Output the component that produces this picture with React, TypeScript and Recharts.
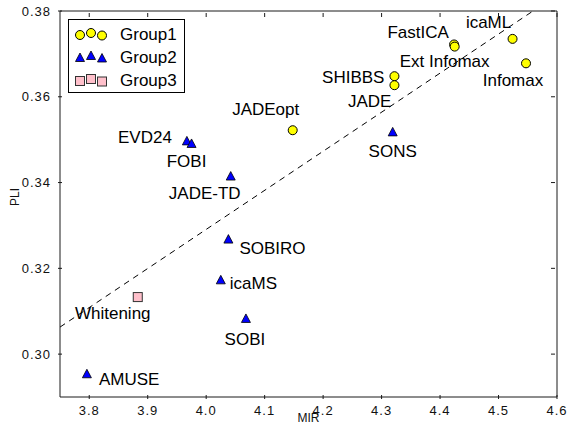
import React from 'react';
import { ScatterChart, Scatter, XAxis, YAxis, ReferenceLine, Label } from 'recharts';

// Group1 (yellow circles)
const group1Names = ['FastICA', 'Ext Infomax', 'icaML', 'Infomax', 'SHIBBS', 'JADE', 'JADEopt'];
const group1Mir = [4.424, 4.425, 4.524, 4.547, 4.322, 4.322, 4.148];
const group1Pli = [0.3722, 0.3717, 0.3735, 0.3678, 0.3648, 0.3627, 0.3522];

// Group2 (blue triangles)
const group2Names = ['SONS', 'EVD24', 'FOBI', 'JADE-TD', 'SOBIRO', 'icaMS', 'SOBI', 'AMUSE'];
const group2Mir = [4.319, 3.967, 3.975, 4.042, 4.038, 4.025, 4.068, 3.796];
const group2Pli = [0.3517, 0.3496, 0.3490, 0.3414, 0.3267, 0.3172, 0.3082, 0.2953];

// Group3 (pink squares)
const group3Names = ['Whitening'];
const group3Mir = [3.883];
const group3Pli = [0.3133];

// dashed trend line end points
const fitMir = [3.75, 4.559];
const fitPli = [0.3063, 0.38];

const xDomain = [3.75, 4.6];
const yDomain = [0.29, 0.38];
const xTicks = [3.8, 3.9, 4.0, 4.1, 4.2, 4.3, 4.4, 4.5, 4.6];
const yTicks = [0.3, 0.32, 0.34, 0.36, 0.38];

// where each label sits relative to its marker
const labelPlace: Record<string, [string, number, number]> = {
  FastICA: ['middle', -36, -12],
  'Ext Infomax': ['middle', -10, 15],
  icaML: ['middle', -24, -16],
  Infomax: ['middle', -13, 17],
  SHIBBS: ['end', -10, 1],
  JADE: ['end', -3, 16],
  JADEopt: ['middle', -27, -21],
  SONS: ['middle', 0, 19],
  EVD24: ['end', -15, -4],
  FOBI: ['middle', -5, 18],
  'JADE-TD': ['middle', -26, 17],
  SOBIRO: ['start', 11, 9],
  icaMS: ['start', 9, 3],
  SOBI: ['middle', -1, 21],
  AMUSE: ['start', 12, 5],
  Whitening: ['middle', -25, 16],
};

const FONT = '"Liberation Sans", Arial, sans-serif';
const AXIS = '#1a1a1a';

// chart layout
const W = 569;
const H = 437;
const MARGIN = { top: 11, right: 12, bottom: 0, left: 0 };
const Y_AXIS_W = 60;
const X_AXIS_H = 40;
const PLOT_W = W - MARGIN.left - MARGIN.right - Y_AXIS_W;
const PLOT_H = H - MARGIN.top - MARGIN.bottom - X_AXIS_H;

const toRows = (names: string[], mir: number[], pli: number[]) =>
  names.map((name, i) => ({ name, mir: mir[i], pli: pli[i] }));

const group1 = toRows(group1Names, group1Mir, group1Pli);
const group2 = toRows(group2Names, group2Mir, group2Pli);
const group3 = toRows(group3Names, group3Mir, group3Pli);

const Circle = ({ x, y }: { x: number; y: number }) => (
  <circle cx={x} cy={y} r={4.5} fill="#ffff00" stroke="#000" strokeWidth={1} />
);
const Tri = ({ x, y }: { x: number; y: number }) => (
  <path d={`M${x},${y - 5}L${x + 4.5},${y + 3.5}L${x - 4.5},${y + 3.5}Z`} fill="#0000ff" stroke="#000" strokeWidth={0.8} />
);
const Sq = ({ x, y }: { x: number; y: number }) => (
  <rect x={x - 4.5} y={y - 4.5} width={9} height={9} fill="#ffc0cb" stroke="#333" strokeWidth={1} />
);

const makeShape = (Marker: React.FC<{ x: number; y: number }>) => (props: any) => {
  const { cx, cy, payload } = props;
  const place = labelPlace[payload.name] || ['start', 8, 0];
  return (
    <g>
      <Marker x={cx} y={cy} />
      <text
        x={cx + place[1]}
        y={cy + place[2]}
        textAnchor={place[0] as any}
        dominantBaseline="central"
        fontSize={17}
        fontFamily={FONT}
        fill="#000"
      >
        {payload.name}
      </text>
    </g>
  );
};

const tickText = { fontSize: 13, fontFamily: FONT, fill: '#111', letterSpacing: 1 };

// bottom tick: inward mark, label, and the matching mark on the top border
const BottomTick = (props: any) => {
  const { x, y, payload } = props;
  const top = y - PLOT_H;
  return (
    <g>
      <line x1={x} y1={y} x2={x} y2={y - 4} stroke={AXIS} strokeWidth={1} />
      <line x1={x} y1={top} x2={x} y2={top + 4} stroke={AXIS} strokeWidth={1} />
      <text x={x} y={y + 11} textAnchor="middle" dominantBaseline="central" {...tickText}>
        {Number(payload.value).toFixed(1)}
      </text>
    </g>
  );
};

// left tick: inward mark, label, and the matching mark on the right border
const LeftTick = (props: any) => {
  const { x, y, payload } = props;
  const right = x + PLOT_W;
  return (
    <g>
      <line x1={x} y1={y} x2={x + 4} y2={y} stroke={AXIS} strokeWidth={1} />
      <line x1={right} y1={y} x2={right - 4} y2={y} stroke={AXIS} strokeWidth={1} />
      <text x={x - 7} y={y} textAnchor="end" dominantBaseline="central" {...tickText}>
        {Number(payload.value).toFixed(2)}
      </text>
    </g>
  );
};

const legendRows = [
  { label: 'Group1', Marker: Circle },
  { label: 'Group2', Marker: Tri },
  { label: 'Group3', Marker: Sq },
];

const LegendBox = () => (
  <div
    style={{
      position: 'absolute',
      left: 68,
      top: 19,
      width: 115,
      height: 72,
      border: '1px solid #000',
      background: '#fff',
    }}
  >
    <svg width={115} height={72} style={{ display: 'block' }}>
      {legendRows.map((row, i) => {
        const cy = 14 + i * 23;
        return (
          <g key={row.label}>
            <row.Marker x={11} y={cy + 1} />
            <row.Marker x={22} y={cy - 1} />
            <row.Marker x={33} y={cy + 1.5} />
            <text x={51} y={cy} dominantBaseline="central" fontSize={17} fontFamily={FONT} fill="#000">
              {row.label}
            </text>
          </g>
        );
      })}
    </svg>
  </div>
);

export default function App() {
  return (
    <div style={{ position: 'absolute', left: 0, top: 0, width: W, height: H, background: '#fff' }}>
      <ScatterChart width={W} height={H} margin={MARGIN}>
        <XAxis
          dataKey="mir"
          type="number"
          domain={xDomain}
          ticks={xTicks}
          interval={0}
          allowDataOverflow
          height={X_AXIS_H}
          tickLine={false}
          tickSize={0}
          tick={<BottomTick />}
          stroke={AXIS}
        >
          <Label
            content={(p: any) => {
              const vb = p.viewBox || { x: 60, y: 397, width: 497 };
              return (
                <text x={vb.x + vb.width / 2} y={vb.y + 21} textAnchor="middle" dominantBaseline="central" fontSize={12} fontFamily={FONT} fill="#111">
                  MIR
                </text>
              );
            }}
          />
        </XAxis>
        <YAxis
          dataKey="pli"
          type="number"
          domain={yDomain}
          ticks={yTicks}
          interval={0}
          allowDataOverflow
          width={Y_AXIS_W}
          tickLine={false}
          tickSize={0}
          tick={<LeftTick />}
          stroke={AXIS}
        >
          <Label
            content={() => (
              <text x={15} y={197} transform="rotate(-90 15 197)" textAnchor="middle" dominantBaseline="central" fontSize={12} fontFamily={FONT} fill="#111">
                PLI
              </text>
            )}
          />
        </YAxis>
        {/* top and right borders of the box */}
        <ReferenceLine y={yDomain[1]} stroke={AXIS} strokeWidth={1} ifOverflow="visible" />
        <ReferenceLine x={xDomain[1]} stroke={AXIS} strokeWidth={1} ifOverflow="visible" />
        <ReferenceLine
          segment={[
            { x: fitMir[0], y: fitPli[0] },
            { x: fitMir[1], y: fitPli[1] },
          ]}
          stroke="#000"
          strokeDasharray="6 5"
          strokeWidth={1}
          ifOverflow="visible"
        />
        <Scatter name="Group1" data={group1} shape={makeShape(Circle)} isAnimationActive={false} />
        <Scatter name="Group2" data={group2} shape={makeShape(Tri)} isAnimationActive={false} />
        <Scatter name="Group3" data={group3} shape={makeShape(Sq)} isAnimationActive={false} />
      </ScatterChart>
      <LegendBox />
    </div>
  );
}
